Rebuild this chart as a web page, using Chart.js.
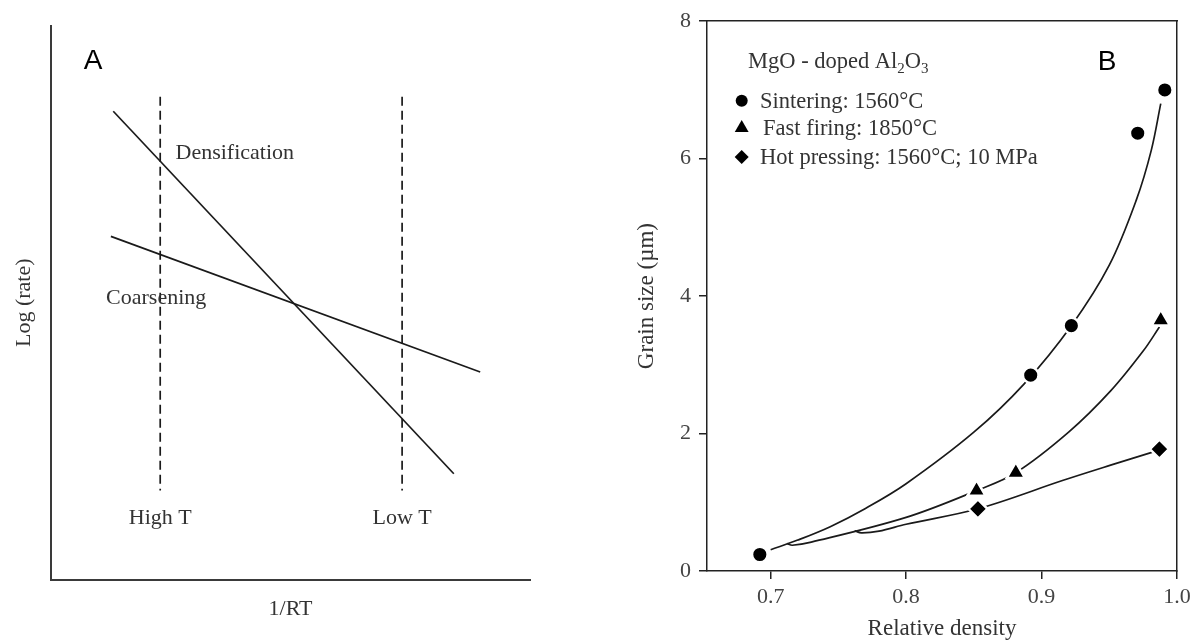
<!DOCTYPE html>
<html>
<head>
<meta charset="utf-8">
<script src="https://cdn.jsdelivr.net/npm/chart.js@4.4.1/dist/chart.umd.min.js"></script>
<style>
body { margin: 0; background: #fff; width: 1199px; height: 643px; overflow: hidden; position: relative; }
canvas { position: absolute; top: 0; }
#chartA { left: 0; }
#chartB { left: 600px; }
</style>
</head>
<body>
<canvas id="chartA" width="600" height="643"></canvas>
<canvas id="chartB" width="599" height="643"></canvas>
<script>
// panel A - schematic, arbitrary units
const densX = [1.30, 8.41];
const densY = [8.46, 1.91];
const coarsX = [1.25, 8.96];
const coarsY = [6.20, 3.75];
const highTX = [2.28, 2.28];
const lowTX = [7.33, 7.33];
const tempLineY = [8.72, 1.61];
const labelsA = ['Densification', 'Coarsening', 'High T', 'Low T'];

// panel B - MgO doped Al2O3
const seriesNames = ['Sintering: 1560°C', 'Fast firing: 1850°C', 'Hot pressing: 1560°C; 10 MPa'];
const sinterDensity = [0.692, 0.892, 0.922, 0.971, 0.991];
const sinterGrain = [0.24, 2.85, 3.57, 6.37, 7.00];
const fastDensity = [0.852, 0.881, 0.988];
const fastGrain = [1.17, 1.43, 3.65];
const hotDensity = [0.853, 0.987];
const hotGrain = [0.905, 1.775];

// the hand drawn trend curves
const sinterFitX = [0.700, 0.72, 0.744, 0.77, 0.80, 0.85, 0.887, 0.922, 0.95, 0.97, 0.981, 0.988];
const sinterFitY = [0.31, 0.45, 0.645, 0.91, 1.27, 2.02, 2.72, 3.57, 4.45, 5.40, 6.12, 6.80];
const fastFitX = [0.712, 0.716, 0.73, 0.80, 0.852, 0.881, 0.92, 0.951, 0.975, 0.987];
const fastFitY = [0.40, 0.375, 0.42, 0.78, 1.17, 1.43, 2.02, 2.62, 3.20, 3.55];
const hotFitX = [0.762, 0.767, 0.78, 0.80, 0.853, 0.916, 0.951, 0.982];
const hotFitY = [0.585, 0.555, 0.58, 0.68, 0.905, 1.32, 1.54, 1.73];

const xTicksB = [0.7, 0.8, 0.9, 1.0];
const yTicksB = [0, 2, 4, 6, 8];

const SERIF = "'Liberation Serif', 'Times New Roman', serif";
const SANS = "'Liberation Sans', Arial, sans-serif";
const INK = '#1a1a1a';
const TXT = '#333';

let pts = (xs, ys) => xs.map((x, i) => ({ x: x, y: ys[i] }));

let lineSet = (xs, ys, dash) => ({
    data: pts(xs, ys),
    showLine: true,
    borderColor: INK,
    borderWidth: 1.7,
    borderDash: dash || [],
    pointRadius: 0,
    xAxisID: 'x',
    yAxisID: 'y'
});

// ---------- panel A ----------
const textA = {
    id: 'textA',
    afterDraw(chart) {
        let ctx = chart.ctx;
        let sx = chart.scales.x, sy = chart.scales.y;
        ctx.save();
        ctx.fillStyle = TXT;
        ctx.textBaseline = 'middle';
        ctx.font = '22px ' + SERIF;
        ctx.textAlign = 'left';
        ctx.fillText(labelsA[0], sx.getPixelForValue(2.60), sy.getPixelForValue(7.71));
        ctx.fillText(labelsA[1], sx.getPixelForValue(1.15), sy.getPixelForValue(5.09));
        ctx.textAlign = 'center';
        ctx.fillText(labelsA[2], sx.getPixelForValue(highTX[0]), sy.getPixelForValue(1.10));
        ctx.fillText(labelsA[3], sx.getPixelForValue(lowTX[0]), sy.getPixelForValue(1.10));
        ctx.fillStyle = '#000';
        ctx.font = '28px ' + SANS;
        ctx.fillText('A', 93, 61);
        ctx.restore();
    }
};

new Chart(document.getElementById('chartA'), {
    type: 'scatter',
    data: {
        datasets: [
            lineSet(densX, densY),
            lineSet(coarsX, coarsY),
            lineSet(highTX, tempLineY, [9, 5]),
            lineSet(lowTX, tempLineY, [9, 5])
        ]
    },
    options: {
        responsive: false,
        animation: false,
        layout: { padding: { top: 26, right: 70, left: 0, bottom: 0 } },
        plugins: { legend: { display: false }, tooltip: { enabled: false } },
        scales: {
            x: {
                type: 'linear', min: 0, max: 10,
                ticks: { display: false },
                grid: { display: false },
                border: { color: '#3a3a3a', width: 2 },
                title: { display: true, text: '1/RT', color: TXT, font: { family: SERIF, size: 22 }, padding: { top: 0, bottom: 21 } },
                afterFit: (s) => { s.height = 63.5; }
            },
            y: {
                type: 'linear', min: 0, max: 10,
                ticks: { display: false },
                grid: { display: false },
                border: { color: '#3a3a3a', width: 2 },
                title: { display: true, text: 'Log (rate)', color: TXT, font: { family: SERIF, size: 22 }, padding: { top: 11, bottom: 0 } },
                afterFit: (s) => { s.width = 51; }
            }
        }
    },
    plugins: [textA]
});

// ---------- panel B ----------
const markerStyles = ['circle', 'triangle', 'rectRot'];

let markSet = (xs, ys, style, r) => ({
    data: pts(xs, ys),
    showLine: false,
    pointStyle: style,
    pointRadius: r,
    backgroundColor: '#000',
    borderColor: '#fff',
    borderWidth: 2.5,
    order: 0,
    xAxisID: 'x',
    yAxisID: 'y'
});

let curveSet = (xs, ys) => Object.assign(lineSet(xs, ys), { tension: 0.35, order: 1 });

const legendB = {
    id: 'legendB',
    afterDraw(chart) {
        let ctx = chart.ctx;
        ctx.save();
        ctx.fillStyle = TXT;
        ctx.textBaseline = 'alphabetic';
        ctx.textAlign = 'left';
        // title with subscripts
        let parts = [['MgO - doped Al', 0], ['2', 1], ['O', 0], ['3', 1]];
        let x = 148;
        for (let p of parts) {
            ctx.font = (p[1] ? '15px ' : '22.5px ') + SERIF;
            ctx.fillText(p[0], x, 68 + (p[1] ? 5 : 0));
            x += ctx.measureText(p[0]).width;
        }
        let rowsY = [100.7, 128, 157];
        let textX = [160, 163, 160];
        let sizes = [6, 8, 7];
        ctx.font = '22.5px ' + SERIF;
        ctx.textBaseline = 'middle';
        for (let i = 0; i < seriesNames.length; i++) {
            ctx.fillStyle = '#000';
            Chart.helpers.drawPoint(ctx, { pointStyle: markerStyles[i], radius: sizes[i], rotation: 0, borderWidth: 0 }, 141.7, rowsY[i]);
            ctx.fillStyle = TXT;
            ctx.fillText(seriesNames[i], textX[i], rowsY[i] + 1);
        }
        ctx.fillStyle = '#000';
        ctx.font = '28px ' + SANS;
        ctx.textAlign = 'center';
        ctx.fillText('B', 507, 62);
        ctx.restore();
    }
};

let sideAxis = (pos, size) => ({
    type: 'linear', position: pos, min: 0, max: 1,
    ticks: { display: false },
    grid: { display: false },
    border: { color: '#222', width: 1.5 },
    afterFit: (s) => { if (pos === 'top') s.height = size; else s.width = size; }
});

new Chart(document.getElementById('chartB'), {
    type: 'scatter',
    data: {
        datasets: [
            markSet(sinterDensity, sinterGrain, 'circle', 7.8),
            markSet(fastDensity, fastGrain, 'triangle', 10.5),
            markSet(hotDensity, hotGrain, 'rectRot', 9.5),
            curveSet(sinterFitX, sinterFitY),
            curveSet(fastFitX, fastFitY),
            curveSet(hotFitX, hotFitY)
        ]
    },
    options: {
        responsive: false,
        animation: false,
        layout: { padding: 0 },
        plugins: { legend: { display: false }, tooltip: { enabled: false } },
        scales: {
            x: {
                type: 'linear', position: 'bottom', min: 0.653, max: 1.0,
                afterBuildTicks: (s) => { s.ticks = xTicksB.map(v => ({ value: v })); },
                ticks: { color: '#444', font: { family: SERIF, size: 22 }, padding: 5, maxRotation: 0, autoSkip: false, callback: (v) => v.toFixed(1) },
                grid: { drawOnChartArea: false, drawTicks: true, tickLength: 8, color: '#222', lineWidth: 1.5 },
                border: { color: '#222', width: 1.5 },
                title: { display: true, text: 'Relative density', color: TXT, font: { family: SERIF, size: 23 }, padding: { top: 0, bottom: 0 } },
                afterFit: (s) => { s.height = 72; }
            },
            y: {
                type: 'linear', position: 'left', min: 0, max: 8,
                afterBuildTicks: (s) => { s.ticks = yTicksB.map(v => ({ value: v })); },
                ticks: { color: '#444', font: { family: SERIF, size: 22 }, padding: 8, callback: (v) => String(v) },
                grid: { drawOnChartArea: false, drawTicks: true, tickLength: 8, color: '#222', lineWidth: 1.5 },
                border: { color: '#222', width: 1.5 },
                title: { display: true, text: 'Grain size (µm)', color: TXT, font: { family: SERIF, size: 23 }, padding: { top: 33, bottom: 0 } },
                afterFit: (s) => { s.width = 107; }
            },
            xTop: sideAxis('top', 20),
            yRight: sideAxis('right', 22)
        }
    },
    plugins: [legendB]
});
</script>
</body>
</html>
